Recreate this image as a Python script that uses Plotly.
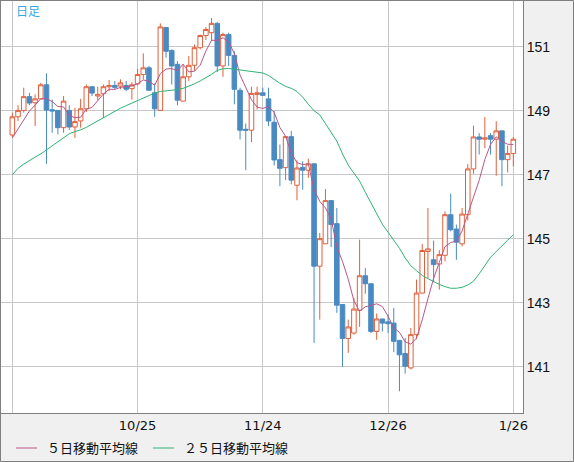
import pandas as pd
import plotly.graph_objects as go

# daily candles, 2023-09-25 .. 2024-01-26 (1/1 closed)
dates = [d for d in pd.bdate_range("2023-09-25", "2024-01-26") if d != pd.Timestamp("2024-01-01")]

opens = [148.24, 148.81, 149.01, 149.44, 149.25, 149.37, 149.81, 149.03, 149.01, 148.47,
         149.01, 148.49, 148.68, 149.06, 149.75, 149.46, 149.53, 149.75, 149.79, 149.77,
         149.79, 149.69, 149.84, 150.13, 150.34, 149.56, 149.01, 151.60, 150.88, 150.45,
         149.30, 150.06, 150.42, 150.97, 151.35, 151.44, 151.73, 150.40, 151.38, 150.73,
         149.64, 148.42, 148.39, 149.51, 149.56, 149.37, 148.64, 147.47, 147.22, 148.19,
         146.67, 147.23, 147.14, 147.34, 144.14, 144.84, 146.19, 145.47, 142.94, 141.88,
         142.05, 142.76, 143.84, 143.59, 142.10, 142.49, 142.40, 142.36, 141.82, 141.41,
         140.96, 142.00, 143.30, 144.60, 144.34, 144.21, 144.48, 145.75, 145.30, 144.84,
         145.75, 147.18, 148.18, 148.11, 148.22, 148.11, 148.37, 147.47, 147.66]
highs = [148.94, 149.17, 149.72, 149.56, 149.51, 149.87, 150.17, 149.35, 149.01, 149.46,
         149.17, 149.09, 149.37, 149.82, 149.75, 149.75, 149.82, 149.96, 149.93, 149.98,
         149.93, 149.89, 150.31, 150.79, 150.40, 149.85, 151.73, 151.60, 150.92, 150.55,
         150.45, 150.71, 151.07, 151.38, 151.62, 151.90, 151.77, 151.44, 151.44, 150.86,
         149.72, 148.60, 149.75, 149.75, 149.72, 149.72, 148.99, 147.94, 148.19, 148.37,
         147.45, 147.42, 147.50, 147.34, 145.18, 146.55, 146.19, 145.96, 142.94, 142.47,
         143.15, 144.97, 144.08, 143.59, 142.66, 142.49, 142.63, 142.83, 141.82, 141.90,
         142.21, 143.72, 144.84, 145.96, 144.94, 144.64, 145.85, 146.41, 145.44, 145.96,
         147.33, 148.53, 148.30, 148.80, 148.30, 148.67, 148.37, 147.91, 148.18]
lows = [148.15, 148.68, 148.94, 149.17, 148.52, 149.35, 147.34, 148.31, 148.26, 148.31,
        148.40, 148.15, 148.47, 148.96, 149.46, 149.33, 148.78, 149.61, 149.67, 149.67,
        149.61, 149.35, 149.79, 149.98, 149.64, 148.81, 149.01, 150.66, 149.82, 149.17,
        149.30, 149.93, 150.24, 150.92, 151.21, 151.18, 150.21, 150.06, 150.40, 149.20,
        148.10, 147.14, 148.02, 149.04, 149.48, 148.52, 147.29, 146.64, 146.83, 146.70,
        146.20, 146.53, 146.90, 141.74, 142.47, 144.84, 144.74, 142.68, 140.99, 141.43,
        142.00, 142.24, 143.28, 142.05, 141.84, 142.10, 142.05, 141.45, 140.23, 140.78,
        140.91, 141.86, 143.28, 143.77, 143.64, 143.41, 144.29, 145.23, 144.34, 144.76,
        145.57, 147.03, 147.63, 147.83, 147.63, 146.97, 146.64, 147.07, 147.26]
closes = [148.81, 149.01, 149.44, 149.24, 149.37, 149.81, 149.02, 148.99, 148.47, 149.30,
          148.49, 148.66, 149.06, 149.75, 149.55, 149.51, 149.75, 149.79, 149.73, 149.87,
          149.67, 149.81, 150.13, 150.34, 149.64, 149.06, 151.62, 150.86, 150.40, 149.33,
          150.06, 150.42, 150.97, 151.35, 151.54, 151.73, 150.40, 151.38, 150.73, 149.67,
          148.39, 148.39, 149.54, 149.56, 149.48, 148.68, 147.46, 147.20, 148.19, 146.83,
          147.21, 147.14, 147.34, 144.14, 145.00, 146.19, 145.44, 142.92, 141.88, 142.24,
          142.80, 143.84, 143.59, 142.10, 142.49, 142.36, 142.34, 141.79, 141.37, 141.01,
          142.00, 143.30, 144.63, 144.68, 144.19, 144.50, 145.75, 145.28, 144.89, 145.77,
          147.18, 148.18, 148.11, 148.15, 148.11, 148.37, 147.47, 147.66, 148.11]

# closes of the 4 sessions before the window (for the 5-day average)
pre_closes = [147.66, 148.14, 147.69, 148.45]

# 25-day average
ma25 = [147.00, 147.20, 147.33, 147.45, 147.55, 147.65, 147.78, 147.90, 148.02, 148.16,
        148.28, 148.35, 148.40, 148.48, 148.58, 148.68, 148.78, 148.88, 149.00, 149.08,
        149.16, 149.24, 149.32, 149.41, 149.48, 149.55, 149.60, 149.62, 149.63, 149.66,
        149.70, 149.76, 149.84, 149.93, 150.03, 150.14, 150.26, 150.31, 150.32, 150.30,
        150.27, 150.24, 150.22, 150.20, 150.18, 150.10, 149.97, 149.86, 149.76, 149.70,
        149.60, 149.42, 149.20, 149.00, 148.87, 148.60, 148.35, 148.05, 147.65, 147.30,
        147.05, 146.80, 146.45, 146.10, 145.75, 145.45, 145.20, 144.95, 144.70, 144.40,
        144.15, 144.00, 143.85, 143.75, 143.65, 143.57, 143.50, 143.45, 143.45, 143.48,
        143.55, 143.67, 143.90, 144.15, 144.42, 144.60, 144.76, 144.95, 145.13]

tick_dates = ["2023-09-25", "2023-10-25", "2023-11-24", "2023-12-26", "2024-01-26"]
price_ticks = [141, 143, 145, 147, 149, 151]

ma5 = pd.Series(pre_closes + closes).rolling(5).mean().iloc[len(pre_closes):].tolist()
xs = list(range(len(dates)))

idx = {d.strftime("%Y-%m-%d"): i for i, d in enumerate(dates)}
tickvals = [idx[d] for d in tick_dates]
ticktext = [""] + [f"{pd.Timestamp(d).month}/{pd.Timestamp(d).day}" for d in tick_dates[1:]]

RED = "#e0603c"
BLUE = "#4a8ac2"
C5 = "#b8568a"
C25 = "#2eb474"
BORDER = "#7f7f7f"

W, H = 574, 462
ML, MR, MT, MB = 1, 51, 1, 49
PW, PH = W - ML - MR, H - MT - MB


def px(x):
    return (x - ML) / PW


def py(y):
    return 1 - (y - MT) / PH


fig = go.Figure()
fig.add_trace(go.Candlestick(
    x=xs, open=opens, high=highs, low=lows, close=closes,
    increasing=dict(line=dict(color=RED, width=1), fillcolor="white"),
    decreasing=dict(line=dict(color=BLUE, width=1), fillcolor=BLUE),
    whiskerwidth=0, showlegend=False, hoverinfo="skip",
))
fig.add_trace(go.Scatter(x=xs, y=ma5, mode="lines", line=dict(color=C5, width=1),
                         showlegend=False, hoverinfo="skip"))
fig.add_trace(go.Scatter(x=xs, y=ma25, mode="lines", line=dict(color=C25, width=1),
                         showlegend=False, hoverinfo="skip"))

# legend drawn by hand, like the original
legend = [("５日移動平均線", C5, 16, 45), ("２５日移動平均線", C25, 153, 182)]
shapes = []
annotations = []
for name, col, lx, tx in legend:
    shapes.append(dict(type="line", xref="paper", yref="paper", x0=px(lx), x1=px(lx + 21),
                       y0=py(448), y1=py(448), line=dict(color=col, width=1)))
    annotations.append(dict(text=name, xref="paper", yref="paper", x=px(tx), y=py(447),
                            xanchor="left", yanchor="middle", showarrow=False,
                            font=dict(family="Noto Sans CJK JP", size=13, color="#111")))
annotations.append(dict(text="日足", xref="paper", yref="paper", x=px(14), y=py(11),
                        xanchor="left", yanchor="middle", showarrow=False,
                        font=dict(family="Noto Sans CJK JP", size=12, color="#3aa6e2")))
# outer frame
shapes.append(dict(type="rect", xref="paper", yref="paper", x0=px(0.5), x1=px(W - 0.5),
                   y0=py(H - 0.5), y1=py(0.5), line=dict(color=BORDER, width=1)))

fig.update_layout(
    width=W, height=H,
    margin=dict(l=ML, r=MR, t=MT, b=MB),
    paper_bgcolor="#f0f0f0", plot_bgcolor="white",
    boxgap=0.2, boxgroupgap=0,
    shapes=shapes, annotations=annotations,
    xaxis=dict(range=[-1.99, 89.7], tickvals=tickvals, ticktext=ticktext,
               showgrid=True, gridcolor="#c8c8c8", gridwidth=1, zeroline=False,
               showline=True, mirror=True, linecolor=BORDER, linewidth=1,
               ticks="", ticklabelstandoff=0, rangeslider=dict(visible=False),
               tickfont=dict(family="DejaVu Sans", size=13, color="#111")),
    yaxis=dict(range=[139.55, 152.43], side="right", tickvals=price_ticks,
               showgrid=True, gridcolor="#c8c8c8", gridwidth=1, zeroline=False,
               showline=True, mirror=True, linecolor=BORDER, linewidth=1,
               ticks="", ticklabelstandoff=0,
               tickfont=dict(family="Liberation Sans", size=14, color="#111")),
)

fig.write_html("out.html", config={"displayModeBar": False},
               post_script="document.body.style.margin='0';")
